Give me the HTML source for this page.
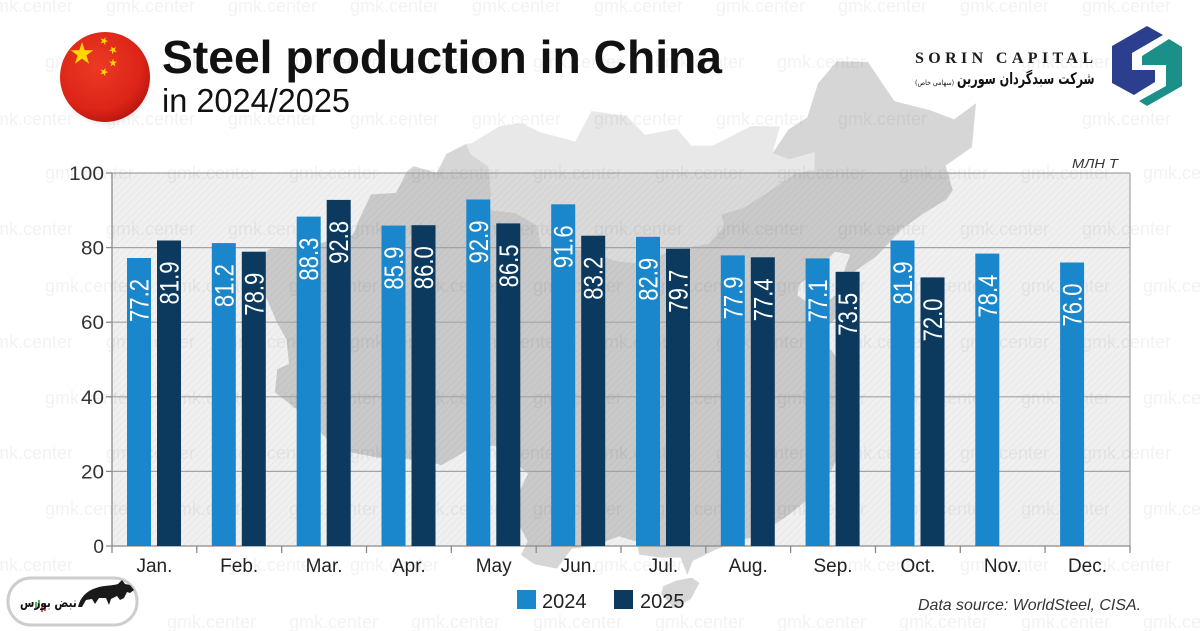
<!DOCTYPE html>
<html><head><meta charset="utf-8">
<style>
html,body{margin:0;padding:0;background:#fff;}
#wrap{position:relative;width:1200px;height:631px;overflow:hidden;background:#fff;}
svg{position:absolute;left:0;top:0;}
.fa{position:absolute;white-space:nowrap;direction:rtl;font-family:"DejaVu Sans",sans-serif;color:#111;}
</style></head><body>
<div id="wrap">
<svg width="1200" height="631" viewBox="0 0 1200 631" xmlns="http://www.w3.org/2000/svg">
<defs>
<pattern id="hatch" width="5" height="5" patternUnits="userSpaceOnUse" patternTransform="rotate(45)">
<rect width="5" height="5" fill="none"/>
<line x1="0" y1="0" x2="0" y2="5" stroke="#000" stroke-opacity="0.035" stroke-width="2"/>
</pattern>
<radialGradient id="flagG" cx="0.42" cy="0.38" r="0.65">
<stop offset="0" stop-color="#ec3a24"/>
<stop offset="0.75" stop-color="#dc2417"/>
<stop offset="1" stop-color="#b81610"/>
</radialGradient>
<radialGradient id="flagSh" cx="0.5" cy="0.5" r="0.5">
<stop offset="0.7" stop-color="#000" stop-opacity="0.18"/>
<stop offset="1" stop-color="#000" stop-opacity="0"/>
</radialGradient>
<path id="star" d="M0,-1L0.2245,-0.309L0.951,-0.309L0.3633,0.118L0.5878,0.809L0,0.382L-0.5878,0.809L-0.3633,0.118L-0.951,-0.309L-0.2245,-0.309Z"/>
</defs>

<rect width="1200" height="631" fill="#fff"/>

<!-- map -->
<path id="mong" d="" fill="#e8e8e8"/>
<path id="china" d="" fill="#d6d6d6"/>

<!-- plot background -->
<rect x="112" y="173" width="1018" height="373" fill="#000" fill-opacity="0.06"/>
<rect x="112" y="173" width="1018" height="373" fill="url(#hatch)"/>

<!-- watermarks -->
<g font-family="Liberation Sans, sans-serif" font-size="18" fill="#000" fill-opacity="0.05">
<text x="-16" y="12">gmk.center</text><text x="106" y="12">gmk.center</text><text x="228" y="12">gmk.center</text><text x="350" y="12">gmk.center</text><text x="472" y="12">gmk.center</text><text x="594" y="12">gmk.center</text><text x="716" y="12">gmk.center</text><text x="838" y="12">gmk.center</text><text x="960" y="12">gmk.center</text><text x="1082" y="12">gmk.center</text>
<text x="45" y="68">gmk.center</text><text x="167" y="68">gmk.center</text><text x="289" y="68">gmk.center</text><text x="411" y="68">gmk.center</text><text x="533" y="68">gmk.center</text><text x="655" y="68">gmk.center</text><text x="777" y="68">gmk.center</text><text x="1021" y="68">gmk.center</text>
<text x="-16" y="125">gmk.center</text><text x="106" y="125">gmk.center</text><text x="228" y="125">gmk.center</text><text x="350" y="125">gmk.center</text><text x="472" y="125">gmk.center</text><text x="594" y="125">gmk.center</text><text x="716" y="125">gmk.center</text><text x="838" y="125">gmk.center</text><text x="1082" y="125">gmk.center</text>
<text x="45" y="179">gmk.center</text><text x="167" y="179">gmk.center</text><text x="289" y="179">gmk.center</text><text x="411" y="179">gmk.center</text><text x="533" y="179">gmk.center</text><text x="655" y="179">gmk.center</text><text x="777" y="179">gmk.center</text><text x="899" y="179">gmk.center</text><text x="1021" y="179">gmk.center</text><text x="1143" y="179">gmk.center</text>
<text x="-16" y="235">gmk.center</text><text x="106" y="235">gmk.center</text><text x="228" y="235">gmk.center</text><text x="350" y="235">gmk.center</text><text x="472" y="235">gmk.center</text><text x="594" y="235">gmk.center</text><text x="716" y="235">gmk.center</text><text x="838" y="235">gmk.center</text><text x="960" y="235">gmk.center</text><text x="1082" y="235">gmk.center</text>
<text x="45" y="292">gmk.center</text><text x="167" y="292">gmk.center</text><text x="289" y="292">gmk.center</text><text x="411" y="292">gmk.center</text><text x="533" y="292">gmk.center</text><text x="655" y="292">gmk.center</text><text x="777" y="292">gmk.center</text><text x="899" y="292">gmk.center</text><text x="1021" y="292">gmk.center</text><text x="1143" y="292">gmk.center</text>
<text x="-16" y="348">gmk.center</text><text x="106" y="348">gmk.center</text><text x="228" y="348">gmk.center</text><text x="350" y="348">gmk.center</text><text x="472" y="348">gmk.center</text><text x="594" y="348">gmk.center</text><text x="716" y="348">gmk.center</text><text x="838" y="348">gmk.center</text><text x="960" y="348">gmk.center</text><text x="1082" y="348">gmk.center</text>
<text x="45" y="404">gmk.center</text><text x="167" y="404">gmk.center</text><text x="289" y="404">gmk.center</text><text x="411" y="404">gmk.center</text><text x="533" y="404">gmk.center</text><text x="655" y="404">gmk.center</text><text x="777" y="404">gmk.center</text><text x="899" y="404">gmk.center</text><text x="1021" y="404">gmk.center</text><text x="1143" y="404">gmk.center</text>
<text x="-16" y="459">gmk.center</text><text x="106" y="459">gmk.center</text><text x="228" y="459">gmk.center</text><text x="350" y="459">gmk.center</text><text x="472" y="459">gmk.center</text><text x="594" y="459">gmk.center</text><text x="716" y="459">gmk.center</text><text x="838" y="459">gmk.center</text><text x="960" y="459">gmk.center</text><text x="1082" y="459">gmk.center</text>
<text x="45" y="515">gmk.center</text><text x="167" y="515">gmk.center</text><text x="289" y="515">gmk.center</text><text x="411" y="515">gmk.center</text><text x="533" y="515">gmk.center</text><text x="655" y="515">gmk.center</text><text x="777" y="515">gmk.center</text><text x="899" y="515">gmk.center</text><text x="1021" y="515">gmk.center</text><text x="1143" y="515">gmk.center</text>
<text x="-16" y="571">gmk.center</text><text x="228" y="571">gmk.center</text><text x="350" y="571">gmk.center</text><text x="594" y="571">gmk.center</text><text x="838" y="571">gmk.center</text><text x="960" y="571">gmk.center</text><text x="1082" y="571">gmk.center</text>
<text x="167" y="628">gmk.center</text><text x="289" y="628">gmk.center</text><text x="411" y="628">gmk.center</text><text x="533" y="628">gmk.center</text><text x="655" y="628">gmk.center</text><text x="777" y="628">gmk.center</text><text x="899" y="628">gmk.center</text><text x="1021" y="628">gmk.center</text><text x="1143" y="628">gmk.center</text>
</g>

<!-- gridlines -->
<g stroke="#a3a3a3" stroke-width="1.2">
<line x1="112" y1="173" x2="1130" y2="173"/>
<line x1="112" y1="247.6" x2="1130" y2="247.6"/>
<line x1="112" y1="322.2" x2="1130" y2="322.2"/>
<line x1="112" y1="396.8" x2="1130" y2="396.8"/>
<line x1="112" y1="471.4" x2="1130" y2="471.4"/>
<line x1="1130" y1="173" x2="1130" y2="546"/>
</g>
<g stroke="#8a8a8a" stroke-width="1.3">
<line x1="112" y1="173" x2="112" y2="546"/>
<line x1="106" y1="546" x2="1130" y2="546"/>
<line x1="106" y1="173" x2="112" y2="173"/>
<line x1="106" y1="247.6" x2="112" y2="247.6"/>
<line x1="106" y1="322.2" x2="112" y2="322.2"/>
<line x1="106" y1="396.8" x2="112" y2="396.8"/>
<line x1="106" y1="471.4" x2="112" y2="471.4"/>
<line x1="112" y1="546" x2="112" y2="553"/>
<line x1="196.8" y1="546" x2="196.8" y2="553"/>
<line x1="281.7" y1="546" x2="281.7" y2="553"/>
<line x1="366.5" y1="546" x2="366.5" y2="553"/>
<line x1="451.3" y1="546" x2="451.3" y2="553"/>
<line x1="536.2" y1="546" x2="536.2" y2="553"/>
<line x1="621" y1="546" x2="621" y2="553"/>
<line x1="705.8" y1="546" x2="705.8" y2="553"/>
<line x1="790.6" y1="546" x2="790.6" y2="553"/>
<line x1="875.5" y1="546" x2="875.5" y2="553"/>
<line x1="960.3" y1="546" x2="960.3" y2="553"/>
<line x1="1045.1" y1="546" x2="1045.1" y2="553"/>
<line x1="1130" y1="546" x2="1130" y2="553"/>
</g>

<!-- y labels -->
<g font-family="Liberation Sans, sans-serif" font-size="19" fill="#333" text-anchor="end">
<text x="104" y="180" textLength="35" lengthAdjust="spacingAndGlyphs">100</text>
<text x="104" y="254.6" textLength="23" lengthAdjust="spacingAndGlyphs">80</text>
<text x="104" y="329.2" textLength="23" lengthAdjust="spacingAndGlyphs">60</text>
<text x="104" y="403.8" textLength="23" lengthAdjust="spacingAndGlyphs">40</text>
<text x="104" y="478.4" textLength="23" lengthAdjust="spacingAndGlyphs">20</text>
<text x="104" y="553">0</text>
</g>

<!-- bars 2024 -->
<g fill="#1a86cc">
<rect x="127" y="258.0" width="24" height="288.0"/>
<rect x="211.8" y="243.1" width="24" height="302.9"/>
<rect x="296.7" y="216.6" width="24" height="329.4"/>
<rect x="381.5" y="225.6" width="24" height="320.4"/>
<rect x="466.3" y="199.5" width="24" height="346.5"/>
<rect x="551.2" y="204.3" width="24" height="341.7"/>
<rect x="636.0" y="236.8" width="24" height="309.2"/>
<rect x="720.8" y="255.4" width="24" height="290.6"/>
<rect x="805.6" y="258.4" width="24" height="287.6"/>
<rect x="890.5" y="240.5" width="24" height="305.5"/>
<rect x="975.3" y="253.6" width="24" height="292.4"/>
<rect x="1060.1" y="262.5" width="24" height="283.5"/>
</g>
<!-- bars 2025 -->
<g fill="#0c3a5e">
<rect x="157" y="240.5" width="24" height="305.5"/>
<rect x="241.8" y="251.7" width="24" height="294.3"/>
<rect x="326.7" y="199.9" width="24" height="346.1"/>
<rect x="411.5" y="225.2" width="24" height="320.8"/>
<rect x="496.3" y="223.4" width="24" height="322.6"/>
<rect x="581.2" y="235.7" width="24" height="310.3"/>
<rect x="666.0" y="248.7" width="24" height="297.3"/>
<rect x="750.8" y="257.3" width="24" height="288.7"/>
<rect x="835.6" y="271.8" width="24" height="274.2"/>
<rect x="920.5" y="277.4" width="24" height="268.6"/>
</g>

<!-- bar labels -->
<g font-family="Liberation Sans, sans-serif" font-size="27" fill="#fff" text-anchor="end">
<text transform="translate(148.5,279) rotate(-90)" textLength="43" lengthAdjust="spacingAndGlyphs">77.2</text>
<text transform="translate(233.3,264.1) rotate(-90)" textLength="43" lengthAdjust="spacingAndGlyphs">81.2</text>
<text transform="translate(318.2,237.6) rotate(-90)" textLength="43" lengthAdjust="spacingAndGlyphs">88.3</text>
<text transform="translate(403,246.6) rotate(-90)" textLength="43" lengthAdjust="spacingAndGlyphs">85.9</text>
<text transform="translate(487.8,220.5) rotate(-90)" textLength="43" lengthAdjust="spacingAndGlyphs">92.9</text>
<text transform="translate(572.7,225.3) rotate(-90)" textLength="43" lengthAdjust="spacingAndGlyphs">91.6</text>
<text transform="translate(657.5,257.8) rotate(-90)" textLength="43" lengthAdjust="spacingAndGlyphs">82.9</text>
<text transform="translate(742.3,276.4) rotate(-90)" textLength="43" lengthAdjust="spacingAndGlyphs">77.9</text>
<text transform="translate(827.1,279.4) rotate(-90)" textLength="43" lengthAdjust="spacingAndGlyphs">77.1</text>
<text transform="translate(912,261.5) rotate(-90)" textLength="43" lengthAdjust="spacingAndGlyphs">81.9</text>
<text transform="translate(996.8,274.6) rotate(-90)" textLength="43" lengthAdjust="spacingAndGlyphs">78.4</text>
<text transform="translate(1081.6,283.5) rotate(-90)" textLength="43" lengthAdjust="spacingAndGlyphs">76.0</text>
<text transform="translate(178.5,261.5) rotate(-90)" textLength="43" lengthAdjust="spacingAndGlyphs">81.9</text>
<text transform="translate(263.3,272.7) rotate(-90)" textLength="43" lengthAdjust="spacingAndGlyphs">78.9</text>
<text transform="translate(348.2,220.9) rotate(-90)" textLength="43" lengthAdjust="spacingAndGlyphs">92.8</text>
<text transform="translate(433,246.2) rotate(-90)" textLength="43" lengthAdjust="spacingAndGlyphs">86.0</text>
<text transform="translate(517.8,244.4) rotate(-90)" textLength="43" lengthAdjust="spacingAndGlyphs">86.5</text>
<text transform="translate(602.7,256.7) rotate(-90)" textLength="43" lengthAdjust="spacingAndGlyphs">83.2</text>
<text transform="translate(687.5,269.7) rotate(-90)" textLength="43" lengthAdjust="spacingAndGlyphs">79.7</text>
<text transform="translate(772.3,278.3) rotate(-90)" textLength="43" lengthAdjust="spacingAndGlyphs">77.4</text>
<text transform="translate(857.1,292.8) rotate(-90)" textLength="43" lengthAdjust="spacingAndGlyphs">73.5</text>
<text transform="translate(942,298.4) rotate(-90)" textLength="43" lengthAdjust="spacingAndGlyphs">72.0</text>
</g>

<!-- x labels -->
<g font-family="Liberation Sans, sans-serif" font-size="19" fill="#222" text-anchor="middle">
<text x="154.4" y="572">Jan.</text>
<text x="239.2" y="572">Feb.</text>
<text x="324.1" y="572">Mar.</text>
<text x="408.9" y="572">Apr.</text>
<text x="493.7" y="572">May</text>
<text x="578.6" y="572">Jun.</text>
<text x="663.4" y="572">Jul.</text>
<text x="748.2" y="572">Aug.</text>
<text x="833" y="572">Sep.</text>
<text x="917.9" y="572">Oct.</text>
<text x="1002.7" y="572">Nov.</text>
<text x="1087.5" y="572">Dec.</text>
</g>

<!-- unit -->
<text x="1072" y="168" font-family="Liberation Sans, sans-serif" font-style="italic" font-size="13" fill="#333" textLength="46" lengthAdjust="spacingAndGlyphs">МЛН Т</text>

<!-- legend -->
<rect x="517" y="590" width="19" height="19" fill="#1a86cc"/>
<text x="542" y="608" font-family="Liberation Sans, sans-serif" font-size="20" fill="#222">2024</text>
<rect x="614" y="590" width="19" height="19" fill="#0c3a5e"/>
<text x="640" y="608" font-family="Liberation Sans, sans-serif" font-size="20" fill="#222">2025</text>
<text x="918" y="610" font-family="Liberation Sans, sans-serif" font-style="italic" font-size="16" fill="#333" textLength="223" lengthAdjust="spacingAndGlyphs">Data source: WorldSteel, CISA.</text>

<!-- title -->
<text x="162" y="73" font-family="Liberation Sans, sans-serif" font-weight="bold" font-size="46" fill="#111" textLength="560" lengthAdjust="spacingAndGlyphs">Steel production in China</text>
<text x="162" y="112" font-family="Liberation Sans, sans-serif" font-size="33" fill="#111" textLength="188" lengthAdjust="spacingAndGlyphs">in 2024/2025</text>

<!-- flag -->
<ellipse cx="106" cy="81" rx="47" ry="46" fill="url(#flagSh)"/>
<circle cx="105" cy="77" r="45" fill="url(#flagG)"/>
<g fill="#ffd800">
<use href="#star" transform="translate(82,54) scale(12)"/>
<use href="#star" transform="translate(104,41) rotate(20) scale(4.3)"/>
<use href="#star" transform="translate(113,50) rotate(45) scale(4.3)"/>
<use href="#star" transform="translate(113,63) rotate(0) scale(4.3)"/>
<use href="#star" transform="translate(104,72) rotate(20) scale(4.3)"/>
</g>

<!-- Sorin capital -->
<text x="915" y="63" font-family="Liberation Serif, serif" font-weight="bold" font-size="16" fill="#1b1b1b" textLength="178" lengthAdjust="spacing">SORIN CAPITAL</text>
<path d="M1147,26 L1163,35 L1132,53 L1132,70 L1155,70 L1155,82 L1134,95 L1112,83 L1112,46 Z" fill="#2b3f8e"/>
<path d="M1169,39 L1182,47 L1182,86 L1147,106 L1139,101 L1166,86 L1166,65 L1142,65 L1142,56 Z" fill="#1a9088"/>

<!-- bottom-left logo -->
<rect x="8" y="578" width="129" height="47" rx="23" ry="23" fill="#fff" stroke="#cdcdcd" stroke-width="3"/>
<path d="M78,607 C80,598 86,591 96,588 C104,585 112,586 118,584 L122,580 L125,584 L130,585 L134,590 L130,593 L127,592 L124,598 L120,600 L117,596 L111,599 L109,605 L106,598 L99,598 L95,604 L92,599 L86,600 L82,607 Z" fill="#1a1a1a"/>
<g stroke-width="1.6">
<line x1="36" y1="602" x2="36" y2="609" stroke="#2aa33c"/>
<line x1="39" y1="600" x2="39" y2="608" stroke="#2aa33c"/>
<line x1="42" y1="604" x2="42" y2="612" stroke="#e0262b"/>
<line x1="45" y1="603" x2="45" y2="611" stroke="#e0262b"/>
</g>
</svg>

<div class="fa" style="right:105px;top:69px;font-size:16px;font-weight:bold;line-height:20px;transform:scaleX(0.7);transform-origin:right center;">شرکت سبدگردان سورین</div>
<div class="fa" style="left:915px;top:79px;font-size:7px;line-height:9px;transform:scaleX(0.9);transform-origin:left center;">(سهامی خاص)</div>
<div class="fa" style="left:20px;top:596px;font-size:13px;font-weight:bold;line-height:16px;transform:scaleX(0.8);transform-origin:left center;">نبض بورس</div>
</div>

<script>
(function(){
var C=[[122.5,53.5],[125.5,53.0],[127.5,50.0],[130.5,48.8],[132.5,47.7],[134.7,48.3],[133.5,45.5],[131.0,44.8],[131.2,43.0],[130.5,42.5],[128.5,42.0],[126.5,41.3],[124.3,39.9],[122.0,39.0],[121.3,38.8],[122.2,40.4],[121.0,40.8],[119.5,39.8],[118.0,39.0],[117.8,38.3],[118.8,37.5],[119.5,37.1],[120.7,37.8],[122.5,37.3],[120.3,36.0],[119.2,35.0],[120.3,34.0],[121.0,32.5],[121.9,31.6],[121.9,30.8],[121.8,29.8],[121.5,28.5],[120.5,27.2],[119.6,25.8],[118.5,24.6],[117.0,23.6],[115.5,22.8],[114.2,22.3],[113.5,22.2],[112.0,21.8],[110.5,21.2],[110.2,20.3],[109.7,21.5],[108.5,21.6],[107.0,21.9],[106.7,22.8],[105.5,23.2],[103.9,22.6],[102.5,22.5],[101.7,21.2],[100.2,21.5],[99.2,22.1],[99.5,23.0],[98.7,24.1],[97.6,23.9],[98.0,25.3],[98.7,27.5],[97.5,28.3],[96.0,29.3],[94.5,29.2],[92.5,27.8],[91.5,28.0],[89.5,28.0],[88.0,27.9],[86.0,28.0],[84.0,28.6],[81.3,30.1],[79.0,31.0],[78.5,32.5],[79.2,33.0],[78.3,34.5],[77.0,35.5],[75.5,36.8],[74.5,37.2],[73.5,39.4],[74.0,40.0],[76.0,40.5],[78.0,41.2],[80.2,42.1],[80.2,43.0],[80.4,44.9],[82.5,45.3],[82.8,46.8],[83.2,47.2],[85.5,47.0],[85.8,48.3],[87.3,49.1],[88.0,48.5],[90.0,47.8],[90.9,46.0],[91.0,45.0],[93.5,44.9],[95.5,44.2],[96.4,42.7],[100.0,42.6],[103.0,41.8],[105.0,41.6],[107.5,42.4],[110.5,42.6],[111.8,43.7],[111.5,44.5],[113.5,44.8],[116.0,45.8],[118.0,46.6],[119.7,46.6],[119.8,47.8],[117.5,47.6],[116.0,48.2],[117.5,49.6],[119.3,50.2],[120.5,52.3]];
var H=[[108.6,19.2],[109.5,18.2],[110.5,18.7],[111.0,19.7],[110.5,20.1],[109.5,20.0],[108.7,19.7]];
var M=[[87.8,49.2],[90,50.5],[92,50.8],[94,50.3],[97.5,49.8],[98.5,51.8],[102,51.5],[104,50.2],[107,50.5],[108.5,49.3],[110.5,49.2],[114,50.2],[116.7,49.9],[116.0,48.2],[117.5,47.6],[119.8,47.8],[119.7,46.6],[118.0,46.6],[116.0,45.8],[113.5,44.8],[111.5,44.5],[111.8,43.7],[110.5,42.6],[107.5,42.4],[105.0,41.6],[103.0,41.8],[100.0,42.6],[96.4,42.7],[95.5,44.2],[93.5,44.9],[91.0,45.0],[90.9,46.0],[90.0,47.8],[88.0,48.5],[87.3,49.1]];
var D=Math.PI/180,p1=25*D,p2=47*D,l0=105*D,Q=Math.PI/4;
var n=Math.log(Math.cos(p1)/Math.cos(p2))/Math.log(Math.tan(Q+p2/2)/Math.tan(Q+p1/2));
var F=Math.cos(p1)*Math.pow(Math.tan(Q+p1/2),n)/n;
function pr(lo,la){var r=F/Math.pow(Math.tan(Q+la*D/2),n),t=n*(lo*D-l0);return [r*Math.sin(t),r*Math.cos(t)];}
var cal=[[122.5,53.5,828,34],[134.7,48.3,984,128],[73.5,39.4,263,263],[109.7,19.2,677,588]];
function det(m){return m[0][0]*(m[1][1]*m[2][2]-m[1][2]*m[2][1])-m[0][1]*(m[1][0]*m[2][2]-m[1][2]*m[2][0])+m[0][2]*(m[1][0]*m[2][1]-m[1][1]*m[2][0]);}
function solve3(S,v){var d=det(S),r=[];for(var k=0;k<3;k++){var m=S.map(function(row,i){return row.map(function(x,j){return j===k?v[i]:x;});});r.push(det(m)/d);}return r;}
function fit(idx){var S=[[0,0,0],[0,0,0],[0,0,0]],v=[0,0,0];cal.forEach(function(c){var p=pr(c[0],c[1]),row=[p[0],p[1],1];for(var i=0;i<3;i++){for(var j=0;j<3;j++)S[i][j]+=row[i]*row[j];v[i]+=row[i]*c[idx];}});return solve3(S,v);}
var ax=fit(2),ay=fit(3);
function P(q){var p=pr(q[0],q[1]);return (ax[0]*p[0]+ax[1]*p[1]+ax[2]).toFixed(1)+','+(ay[0]*p[0]+ay[1]*p[1]+ay[2]).toFixed(1);}
function path(a){return 'M'+a.map(P).join('L')+'Z';}
document.getElementById('china').setAttribute('d',path(C)+path(H));
document.getElementById('mong').setAttribute('d',path(M));
})();
</script>
</body></html>
